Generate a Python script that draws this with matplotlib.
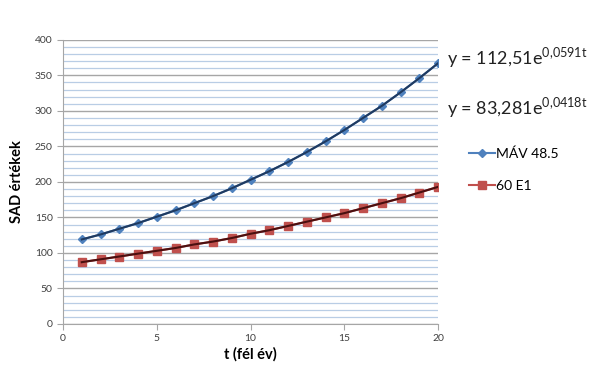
import matplotlib.pyplot as plt
from matplotlib.lines import Line2D
from matplotlib.ticker import MultipleLocator

plt.rcParams['font.family'] = ['Lato', 'DejaVu Sans']
plt.rcParams['mathtext.fontset'] = 'custom'
plt.rcParams['mathtext.rm'] = 'Lato'

t = list(range(1, 21))
mav = [119, 126, 134, 142, 151, 160, 170, 180, 191, 203,
       215, 228, 242, 257, 273, 290, 307, 326, 346, 367]
e1 = [87, 91, 95, 99, 103, 107, 112, 116, 121, 127,
      132, 138, 144, 150, 156, 163, 170, 177, 185, 193]
labels = ['MÁV 48.5', '60 E1']
eqs = [r'y = 112,51e$^{\mathrm{0{,}0591t}}$', r'y = 83,281e$^{\mathrm{0{,}0418t}}$']

blue = '#4f81bd'
red = '#c0504d'

fig = plt.figure(figsize=(6, 3.69), dpi=100)
ax = fig.add_axes([0.105, 0.122, 0.625, 0.77])

ax.set_xlim(0, 20)
ax.set_ylim(0, 400)
ax.xaxis.set_major_locator(MultipleLocator(5))
ax.yaxis.set_major_locator(MultipleLocator(50))
ax.yaxis.set_minor_locator(MultipleLocator(10))
ax.grid(which='minor', axis='y', color='#b9cde5', lw=0.9)
ax.grid(which='major', axis='y', color='#a6a6a6', lw=1.0)
ax.set_axisbelow(True)
for s in ['top', 'right']:
    ax.spines[s].set_visible(False)
for s in ['left', 'bottom']:
    ax.spines[s].set_color('#a6a6a6')
ax.tick_params(which='major', length=4, color='#a6a6a6', labelsize=7.5, labelcolor='#404040')
ax.tick_params(which='minor', length=0)

# data series
ax.plot(t, mav, color=blue, lw=1.5, marker='D', ms=4.5, mec=blue, mfc=blue)
ax.plot(t, e1, color=red, lw=1.5, marker='s', ms=6, mec=red, mfc=red)
# trend lines
ax.plot(t, mav, color='#1f3a60', lw=1.5)
ax.plot(t, e1, color='#4a0f0f', lw=1.5)

ax.set_xlabel('t (fél év)', fontsize=10.5, fontweight='bold', labelpad=3)
ax.set_ylabel('SAD értékek', fontsize=10.5, fontweight='bold', labelpad=8)

fig.text(0.745, 0.843, eqs[0], fontsize=13, va='center', color='#222222')
fig.text(0.745, 0.708, eqs[1], fontsize=13, va='center', color='#222222')

handles = [Line2D([], [], color=blue, lw=1.5, marker='D', ms=4.5),
           Line2D([], [], color=red, lw=1.5, marker='s', ms=6)]
fig.legend(handles, labels, loc='center left', bbox_to_anchor=(0.76, 0.54),
           frameon=False, fontsize=10, handlelength=1.9, labelspacing=1.4,
           handletextpad=0.1)

fig.savefig('out.png', dpi=100)
